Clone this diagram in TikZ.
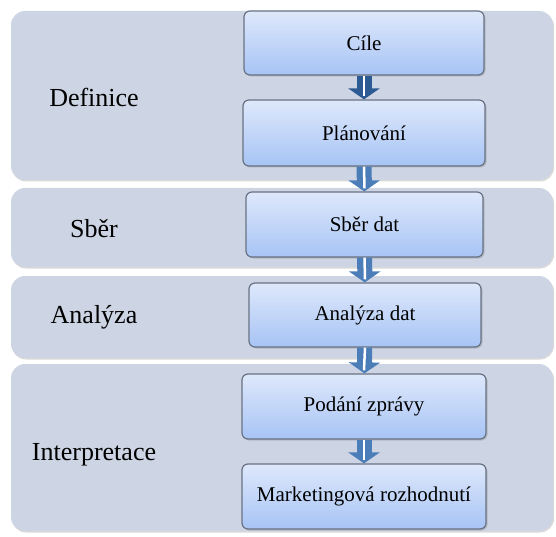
\documentclass[tikz,border=0pt]{standalone}
\usepackage{fontspec}
\setmainfont{Liberation Serif}
\usetikzlibrary{arrows.meta,shadows}

\definecolor{bandgray}{HTML}{CDD5E4}
\definecolor{boxtop}{HTML}{DEE8FB}
\definecolor{boxbottom}{HTML}{A7C4F5}
\definecolor{boxline}{HTML}{687283}
\definecolor{arrowdark}{HTML}{2C5A93}
\definecolor{arrowblue}{HTML}{4B7DB8}

\begin{document}
\begin{tikzpicture}[
  x=1pt, y=-1pt,
  band/.style={fill=bandgray, rounded corners=14pt, inner sep=0pt, minimum width=542pt,
    drop shadow={shadow xshift=1pt, shadow yshift=-1.5pt, opacity=.3}},
  stage/.style={font=\rmfamily\fontsize{26}{30}\selectfont},
  task/.style={draw=boxline, line width=1.2pt, rounded corners=6pt,
    top color=boxtop, bottom color=boxbottom, minimum width=240pt,
    minimum height=65pt, inner sep=0pt, font=\rmfamily\fontsize{21}{25}\selectfont,
    drop shadow={shadow xshift=1.5pt, shadow yshift=-1.5pt, opacity=.35}},
  flow/.style={draw=arrowblue, line width=15pt, -{Triangle[width=31pt,length=11pt]}},
  stripe/.style={draw=white, line width=2.5pt},
]
\useasboundingbox (0,0) rectangle (556,537);

\node[band, minimum height=169pt] (bdef) at (282,95.5) {};
\node[band, minimum height=79pt] (bsber) at (282,227.5) {};
\node[band, minimum height=82pt] (banal) at (282,317) {};
\node[band, minimum height=167pt] (binter) at (282,447.5) {};

\node[stage] (definice) at (94,97) {Definice};
\node[stage] (sberlab) at (94,229) {Sběr};
\node[stage] (analab) at (94,317) {Analýza};
\node[stage] (interlab) at (94,455) {Interpretace};

\node[task, minimum height=64pt] (cile) at (364,43) {Cíle};
\node[task, minimum height=66pt, minimum width=242pt] (plan) at (364,133) {Plánování};
\node[task, minimum width=237pt] (sber) at (364.5,224.5) {Sběr dat};
\node[task, minimum height=64pt, minimum width=232pt] (analyza) at (365,315) {Analýza dat};
\node[task, minimum width=244pt] (podani) at (364,406.5) {Podání zprávy};
\node[task, minimum width=244pt] (rozhod) at (364,496.5) {Marketingová rozhodnutí};

\draw[flow, draw=arrowdark] (cile) -- (plan);
\draw[stripe] (cile.south) -- ([yshift=3pt]plan.north);
\foreach \a/\b in {plan/sber, sber/analyza, analyza/podani, podani/rozhod} {
  \draw[flow] (\a) -- (\b);
  \draw[stripe] (\a.south) -- ([yshift=3pt]\b.north);
}

\end{tikzpicture}
\end{document}
